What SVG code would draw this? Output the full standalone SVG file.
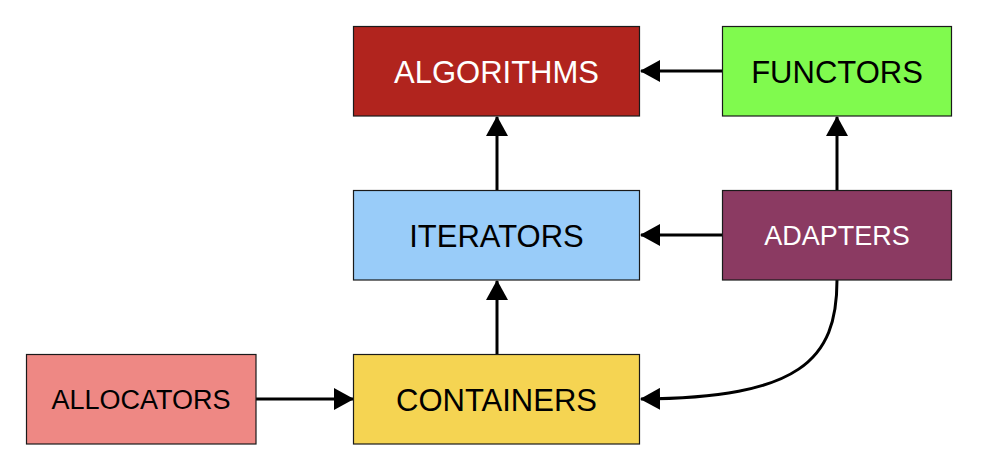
<svg xmlns="http://www.w3.org/2000/svg" width="982" height="474" viewBox="0 0 982 474">
<defs>
<style>
.box{stroke:#1a1a1a;stroke-width:1.2}
.t{font-family:"Liberation Sans",Arial,sans-serif;font-size:31px;text-anchor:middle}
.s{font-size:27px}
.w{fill:#ffffff}
.k{fill:#000000}
.c{fill:none;stroke:#000;stroke-width:3}
</style>
<marker id="ah" viewBox="0 0 20 22" refX="19" refY="11" markerUnits="userSpaceOnUse" markerWidth="20" markerHeight="22" orient="auto">
<path d="M0,0 L20,11 L0,22 Z" fill="#000"/>
</marker>
</defs>
<rect width="982" height="474" fill="#ffffff"/>
<g id="connectors">
<path class="c" d="M722,71 L641,71" marker-end="url(#ah)"/>
<path class="c" d="M497,191 L497,117" marker-end="url(#ah)"/>
<path class="c" d="M837,190 L837,117" marker-end="url(#ah)"/>
<path class="c" d="M722,235 L641,235" marker-end="url(#ah)"/>
<path class="c" d="M497,355 L497,281" marker-end="url(#ah)"/>
<path class="c" d="M256,399 L353,399" marker-end="url(#ah)"/>
<path class="c" d="M837,280 C837,360 800,398 641,399" marker-end="url(#ah)"/>
</g>
<g id="algorithms">
<rect class="box" x="353.5" y="26.5" width="286" height="89.5" fill="#B1241E"/>
<text class="t w" x="496.5" y="82.5">ALGORITHMS</text>
</g>
<g id="functors">
<rect class="box" x="722.5" y="26.5" width="229" height="89.5" fill="#80FA4E"/>
<text class="t k" x="837" y="82.5">FUNCTORS</text>
</g>
<g id="iterators">
<rect class="box" x="353.5" y="190.5" width="286" height="89.5" fill="#99CCF9"/>
<text class="t k" x="496.5" y="246.5">ITERATORS</text>
</g>
<g id="adapters">
<rect class="box" x="722.5" y="190.5" width="229" height="89.5" fill="#8B3A62"/>
<text class="t s w" x="837" y="245">ADAPTERS</text>
</g>
<g id="allocators">
<rect class="box" x="26.5" y="354.5" width="229.5" height="89.5" fill="#EE8884"/>
<text class="t s k" x="141" y="409">ALLOCATORS</text>
</g>
<g id="containers">
<rect class="box" x="353.5" y="354.5" width="286" height="89.5" fill="#F5D452"/>
<text class="t k" x="496.5" y="410.5">CONTAINERS</text>
</g>
</svg>
